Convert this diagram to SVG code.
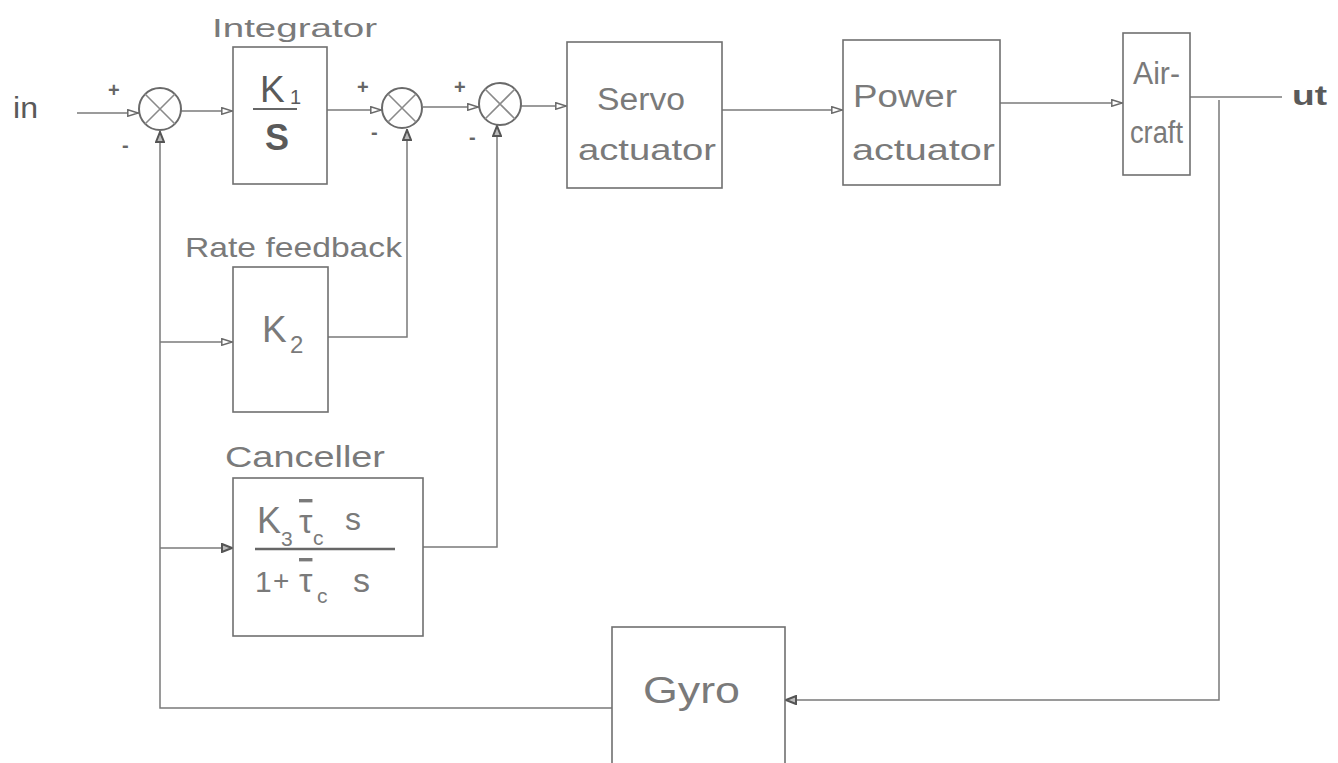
<svg xmlns="http://www.w3.org/2000/svg" width="1338" height="763" viewBox="0 0 1338 763">
<style>
.box{fill:none;stroke:#707070;stroke-width:1.6}
.ln{fill:none;stroke:#7a7a7a;stroke-width:1.5}
.sum{fill:#fff;stroke:#6a6a6a;stroke-width:2}
.x{fill:none;stroke:#8a8a8a;stroke-width:1.6}
.t{font-family:"Liberation Sans",Arial,sans-serif;fill:#7a7a7a}
.d{font-family:"Liberation Sans",Arial,sans-serif;fill:#5a5a5a}
.sg{font-family:"Liberation Sans",Arial,sans-serif;fill:#666;font-size:20px;font-weight:bold}
</style>
<defs>
<marker id="ar" viewBox="0 0 12 8" refX="12" refY="4" markerWidth="12" markerHeight="8" orient="auto" markerUnits="userSpaceOnUse">
<path d="M0.8,0.8 L11.2,4 L0.8,7.2 Z" fill="#fff" stroke="#6a6a6a" stroke-width="1.5"/>
</marker>
<marker id="au" viewBox="0 0 12 10" refX="12" refY="5" markerWidth="12" markerHeight="10" orient="auto" markerUnits="userSpaceOnUse">
<path d="M1,1 L11,5 L1,9 Z" fill="#bbb" stroke="#555" stroke-width="2"/>
</marker>
</defs>
<rect width="1338" height="763" fill="#fff"/>
<g id="connectors">
<path class="ln" d="M77,113 H139" marker-end="url(#ar)"/>
<path class="ln" d="M181,111 H233" marker-end="url(#ar)"/>
<path class="ln" d="M327,110 H382" marker-end="url(#ar)"/>
<path class="ln" d="M423,107 H479" marker-end="url(#ar)"/>
<path class="ln" d="M521,106 H567" marker-end="url(#ar)"/>
<path class="ln" d="M722,110 H843" marker-end="url(#ar)"/>
<path class="ln" d="M1000,103 H1123" marker-end="url(#ar)"/>
<path class="ln" d="M1190,97 H1282"/>
<path class="ln" d="M1219,100 V700 H785" marker-end="url(#au)"/>
<path class="ln" d="M612,708 H160 V131" marker-end="url(#au)"/>
<path class="ln" d="M160,342 H233" marker-end="url(#ar)"/>
<path class="ln" d="M160,548 H233" marker-end="url(#au)"/>
<path class="ln" d="M328,337 H407 V129" marker-end="url(#au)"/>
<path class="ln" d="M423,547 H497 V125" marker-end="url(#au)"/>
</g>
<g id="in"><text class="d" x="13" y="118" font-size="30" textLength="25" lengthAdjust="spacingAndGlyphs">in</text></g>
<g id="out"><text class="d" x="1292" y="105" font-size="28" font-weight="bold" textLength="35" lengthAdjust="spacingAndGlyphs">ut</text></g>
<g id="sum1">
<circle class="sum" cx="160" cy="109" r="21"/>
<path class="x" d="M145,94 L175,124 M175,94 L145,124"/>
<text class="sg" x="108" y="97">+</text>
<text class="sg" x="122" y="152">-</text>
</g>
<g id="integrator">
<rect class="box" x="233" y="47" width="94" height="137"/>
<text class="t" x="212" y="37" font-size="26" textLength="165" lengthAdjust="spacingAndGlyphs">Integrator</text>
<text class="d" x="260" y="102" font-size="37">K</text>
<text class="d" x="290" y="104" font-size="20">1</text>
<path d="M253,109 H297" stroke="#666" stroke-width="2.2"/>
<text class="d" x="277" y="150" font-size="36" font-weight="bold" text-anchor="middle">S</text>
</g>
<g id="sum2">
<circle class="sum" cx="402" cy="108" r="20"/>
<path class="x" d="M388,94 L416,122 M416,94 L388,122"/>
<text class="sg" x="357" y="94">+</text>
<text class="sg" x="371" y="139">-</text>
</g>
<g id="sum3">
<circle class="sum" cx="500" cy="104" r="21"/>
<path class="x" d="M485,89 L515,119 M515,89 L485,119"/>
<text class="sg" x="454" y="94">+</text>
<text class="sg" x="469" y="144">-</text>
</g>
<g id="servo">
<rect class="box" x="567" y="42" width="155" height="146"/>
<text class="t" x="597" y="110" font-size="31" textLength="88" lengthAdjust="spacingAndGlyphs">Servo</text>
<text class="t" x="578" y="160" font-size="30" textLength="138" lengthAdjust="spacingAndGlyphs">actuator</text>
</g>
<g id="power">
<rect class="box" x="843" y="40" width="157" height="145"/>
<text class="t" x="853" y="107" font-size="31" textLength="104" lengthAdjust="spacingAndGlyphs">Power</text>
<text class="t" x="852" y="160" font-size="30" textLength="143" lengthAdjust="spacingAndGlyphs">actuator</text>
</g>
<g id="aircraft">
<rect class="box" x="1123" y="33" width="67" height="142"/>
<text class="t" x="1133" y="84" font-size="31" textLength="47" lengthAdjust="spacingAndGlyphs">Air-</text>
<text class="t" x="1130" y="143" font-size="31" textLength="53" lengthAdjust="spacingAndGlyphs">craft</text>
</g>
<g id="rate">
<rect class="box" x="233" y="267" width="95" height="145"/>
<text class="t" x="185" y="257" font-size="28" textLength="217" lengthAdjust="spacingAndGlyphs">Rate feedback</text>
<text class="t" x="262" y="342" font-size="37">K</text>
<text class="t" x="290" y="353" font-size="24">2</text>
</g>
<g id="canceller">
<rect class="box" x="233" y="478" width="190" height="158"/>
<text class="t" x="225" y="467" font-size="30" textLength="160" lengthAdjust="spacingAndGlyphs">Canceller</text>
<text class="t" x="257" y="533" font-size="36">K</text>
<text class="t" x="281" y="546" font-size="21">3</text>
<text class="t" x="299" y="533" font-size="34" text-decoration="overline">τ</text>
<text class="t" x="313" y="545" font-size="21">c</text>
<text class="t" x="345" y="530" font-size="32">s</text>
<path d="M255,549 H395" stroke="#666" stroke-width="2.4"/>
<text class="t" x="255" y="592" font-size="30">1</text>
<text class="t" x="273" y="590" font-size="28">+</text>
<text class="t" x="299" y="592" font-size="34" text-decoration="overline">τ</text>
<text class="t" x="317" y="603" font-size="21">c</text>
<text class="t" x="353" y="592" font-size="34">s</text>
</g>
<g id="gyro">
<rect class="box" x="612" y="627" width="173" height="140"/>
<text class="t" x="643" y="703" font-size="36" textLength="97" lengthAdjust="spacingAndGlyphs">Gyro</text>
</g>
</svg>
